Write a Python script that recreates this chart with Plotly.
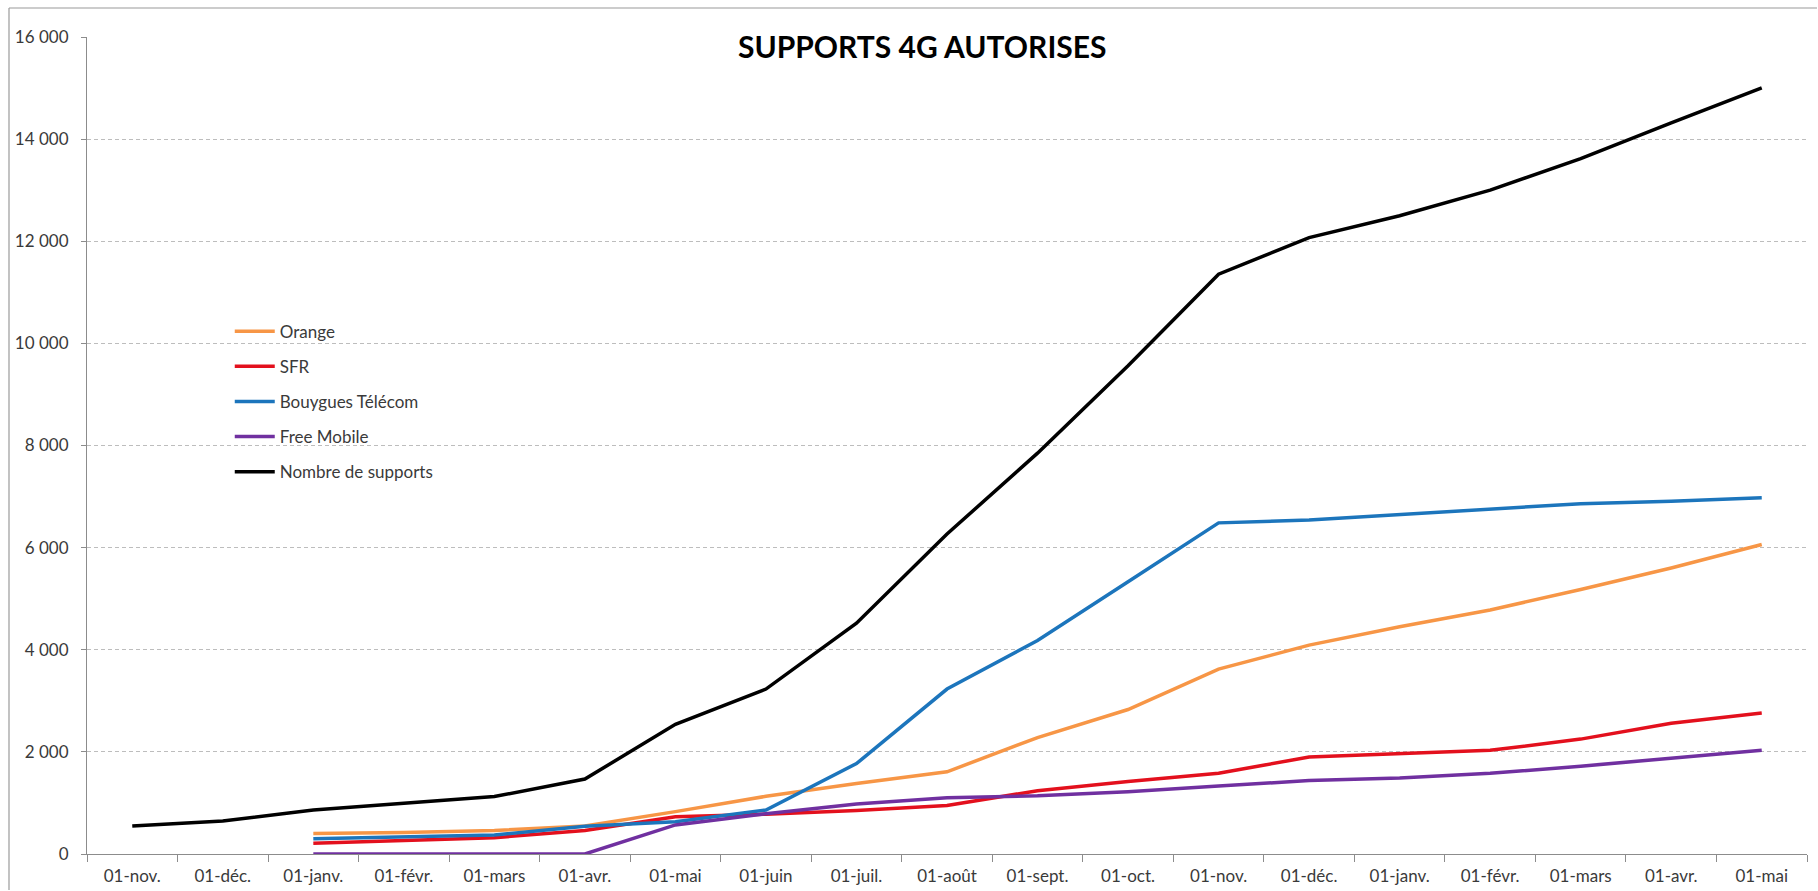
import plotly.graph_objects as go

months = ["01-nov.", "01-déc.", "01-janv.", "01-févr.", "01-mars", "01-avr.", "01-mai",
          "01-juin", "01-juil.", "01-août", "01-sept.", "01-oct.", "01-nov.", "01-déc.",
          "01-janv.", "01-févr.", "01-mars", "01-avr.", "01-mai"]

orange = [None, None, 400, 420, 460, 550, 830, 1130, 1380, 1610, 2280, 2830, 3620, 4090,
          4450, 4780, 5180, 5600, 6060]
sfr = [None, None, 210, 270, 320, 460, 730, 780, 850, 950, 1240, 1420, 1580, 1900,
       1970, 2030, 2250, 2560, 2760]
bouygues = [None, None, 300, 340, 370, 545, 630, 860, 1770, 3230, 4180, 5330, 6485, 6540,
            6650, 6750, 6860, 6910, 6975]
free = [None, None, 0, 0, 0, 0, 570, 790, 980, 1100, 1140, 1220, 1330, 1440,
        1490, 1580, 1720, 1880, 2030]
total = [550, 645, 860, 990, 1125, 1467, 2540, 3230, 4520, 6266, 7850, 9560, 11354, 12072,
         12500, 13000, 13620, 14320, 15005]

y_ticks = [0, 2000, 4000, 6000, 8000, 10000, 12000, 14000, 16000]
y_tick_text = ["0", "2 000", "4 000", "6 000", "8 000", "10 000", "12 000", "14 000", "16 000"]

series = [
    ("Orange", orange, "#F79646"),
    ("SFR", sfr, "#E3101D"),
    ("Bouygues Télécom", bouygues, "#1C75BC"),
    ("Free Mobile", free, "#7030A0"),
    ("Nombre de supports", total, "#000000"),
]

x_idx = list(range(len(months)))

fig = go.Figure()
for i, (name, vals, col) in enumerate(series):
    fig.add_trace(go.Scatter(
        x=x_idx, y=vals, name=name, mode="lines",
        line=dict(color=col, width=3.5),
        legendgroup=f"g{i}",
    ))

W, H = 1818, 891
L, R, T, B = 87, 11, 37, 37

fig.update_layout(
    width=W, height=H,
    margin=dict(l=L, r=R, t=T, b=B, pad=0, autoexpand=False),
    paper_bgcolor="white", plot_bgcolor="white",
    font=dict(family="Lato, 'Open Sans', sans-serif", size=17, color="#3A3A3A"),
    showlegend=True,
    legend=dict(
        x=0.083, y=0.6613, xanchor="left", yanchor="top",
        bgcolor="rgba(255,255,255,0)", borderwidth=0,
        font=dict(size=17, color="#3A3A3A"),
        tracegroupgap=10, itemwidth=40,
    ),
    annotations=[dict(
        text="<b>SUPPORTS 4G AUTORISES</b>", xref="paper", yref="paper",
        x=0.4855, y=1 - (46 - T) / (H - T - B), xanchor="center", yanchor="middle",
        showarrow=False, bgcolor="white", borderpad=2,
        font=dict(family="Lato, sans-serif", size=30, color="#000000"),
    )],
    shapes=[
        dict(type="line", xref="paper", yref="paper",
             x0=(9 - L) / (W - L - R), x1=(W - 1 - L) / (W - L - R),
             y0=1 + (T - 8) / (H - T - B), y1=1 + (T - 8) / (H - T - B),
             line=dict(color="#9A9A9A", width=1.2)),
        dict(type="line", xref="paper", yref="paper",
             x0=(9 - L) / (W - L - R), x1=(9 - L) / (W - L - R),
             y0=1 + (T - 8) / (H - T - B), y1=-(B - 1) / (H - T - B),
             line=dict(color="#9A9A9A", width=1.2)),
    ],
)

fig.update_xaxes(
    range=[-0.5, len(months) - 0.5],
    tickmode="array", tickvals=x_idx, ticktext=months,
    ticks="outside", ticklen=6, tickcolor="rgba(0,0,0,0)",
    showgrid=False, zeroline=False, automargin=False,
    showline=True, linecolor="#8C8C8C", linewidth=1.2,
    tickfont=dict(size=17, color="#3A3A3A"),
    minor=dict(tickmode="array", tickvals=[i - 0.5 for i in range(len(months) + 1)],
               ticks="outside", ticklen=7, tickcolor="#8C8C8C", tickwidth=1.2,
               showgrid=False),
    fixedrange=True,
)

fig.update_yaxes(
    range=[0, 16000],
    tickmode="array", tickvals=y_ticks, ticktext=y_tick_text,
    ticks="outside", ticklen=5, tickcolor="#8C8C8C", tickwidth=1.2,
    showgrid=True, gridcolor="#BDBDBD", gridwidth=1, griddash="4px,3px",
    zeroline=False, automargin=False,
    showline=True, linecolor="#8C8C8C", linewidth=1.2,
    ticklabelstandoff=9,
    tickfont=dict(size=17, color="#3A3A3A"),
    fixedrange=True,
)

fig.write_html("out.html", config={"displayModeBar": False},
               post_script="document.body.style.margin='0';document.body.style.overflow='hidden';")
